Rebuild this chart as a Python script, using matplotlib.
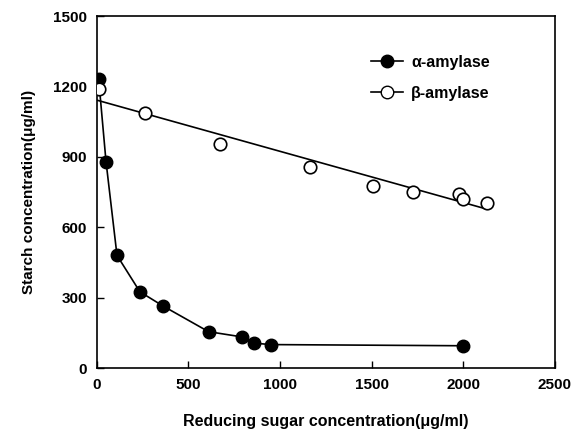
import numpy as np
import matplotlib
matplotlib.use("Agg")
import matplotlib.pyplot as plt

plt.rcParams['font.family'] = ['Liberation Sans', 'DejaVu Sans']
plt.rcParams['font.weight'] = 'bold'

alpha_x = [10, 50, 110, 235, 360, 610, 790, 860, 950, 2000]
alpha_y = [1230, 880, 480, 325, 265, 155, 133, 106, 100, 95]
beta_x = [10, 265, 670, 1165, 1510, 1725, 1975, 2000, 2130]
beta_y = [1190, 1087, 955, 855, 775, 750, 740, 720, 705]
xticks = [0, 500, 1000, 1500, 2000, 2500]
yticks = [0, 300, 600, 900, 1200, 1500]

fig = plt.figure(figsize=(5.87, 4.33), dpi=100)
ax = fig.add_axes([0.165, 0.150, 0.780, 0.813])

ax.plot(alpha_x, alpha_y, '-', color='black', lw=1.2, marker='o', ms=9,
        mfc='black', mec='black', label='α-amylase', zorder=3)
# regression line for beta
coef = np.polyfit(beta_x, beta_y, 1)
fx = np.array([0, max(beta_x)])
ax.plot(fx, np.polyval(coef, fx), '-', color='black', lw=1.2, zorder=2)
ax.plot(beta_x, beta_y, 'none', marker='o', ms=9, mfc='white', mec='black',
        mew=1.2, zorder=4)
# legend proxy
ax.plot([], [], '-', color='black', lw=1.2, marker='o', ms=9, mfc='white',
        mec='black', label='β-amylase')

ax.set_xlim(0, 2500)
ax.set_ylim(0, 1500)
ax.set_xticks(xticks)
ax.set_yticks(yticks)
ax.tick_params(direction='in', length=5, width=1, labelsize=11, pad=7)
for lab in ax.get_xticklabels() + ax.get_yticklabels():
    lab.set_fontweight('bold')
for s in ax.spines.values():
    s.set_linewidth(1.2)

ax.set_xlabel('Reducing sugar concentration(μg/ml)', fontsize=11.5,
              fontweight='bold', labelpad=16)
ax.set_ylabel('Starch concentration(μg/ml)', fontsize=11,
              fontweight='bold', labelpad=12)

ax.legend(loc='upper right', bbox_to_anchor=(0.89, 0.93), frameon=False,
          fontsize=11.5, handlelength=2.0, handletextpad=0.5, labelspacing=1.0)

fig.savefig('out.png', dpi=100)
